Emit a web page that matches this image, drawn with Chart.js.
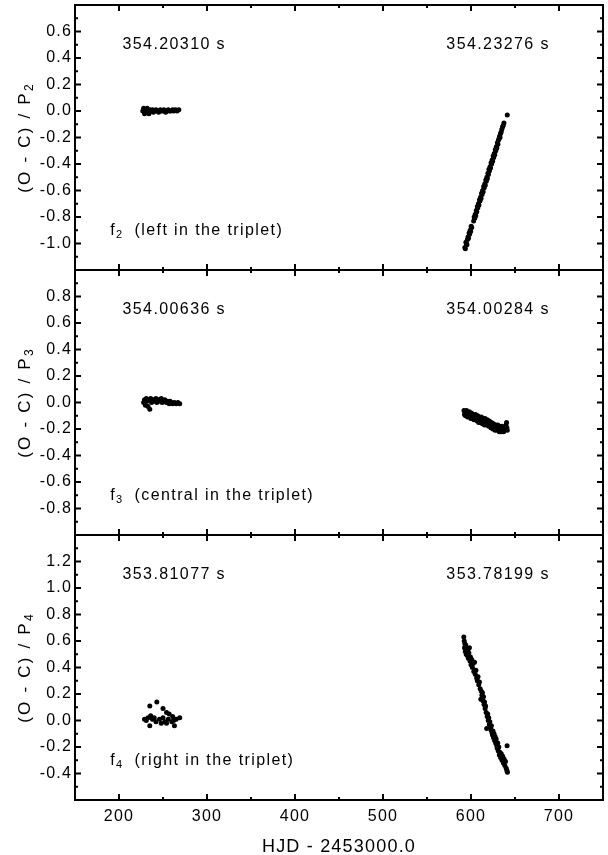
<!DOCTYPE html>
<html>
<head>
<meta charset="utf-8">
<title>O - C diagrams of the triplet</title>
<script src="https://cdn.jsdelivr.net/npm/chart.js@4.4.0/dist/chart.umd.min.js"></script>
<style>
  body { margin: 0; background: #fff; }
  #wrap { position: relative; width: 608px; height: 855px; }
  .panel { position: absolute; left: 0; width: 608px; }
</style>
</head>
<body>
<div id="wrap">
  <div class="panel" style="top:0;height:275px"><canvas id="c2"></canvas></div>
  <div class="panel" style="top:265px;height:275px"><canvas id="c3"></canvas></div>
  <div class="panel" style="top:530px;height:325px"><canvas id="c4"></canvas></div>
</div>
<script>
// axes
const hjdRange = [150, 750];
const hjdTicks = [200, 300, 400, 500, 600, 700];
const f2Range = [-1.2, 0.8];
const f2Ticks = [-1.0, -0.8, -0.6, -0.4, -0.2, 0.0, 0.2, 0.4, 0.6];
const f3Range = [-1.0, 1.0];
const f3Ticks = [-0.8, -0.6, -0.4, -0.2, 0.0, 0.2, 0.4, 0.6, 0.8];
const f4Range = [-0.6, 1.4];
const f4Ticks = [-0.4, -0.2, 0.0, 0.2, 0.4, 0.6, 0.8, 1.0, 1.2];

// periods fitted to each season
const f2Periods = ['354.20310 s', '354.23276 s'];
const f3Periods = ['354.00636 s', '354.00284 s'];
const f4Periods = ['353.81077 s', '353.78199 s'];

// f2, first season
const f2EarlyHjd = [227, 228, 229, 230, 231, 232, 233, 234, 235, 236, 238, 239, 241, 242, 244, 245, 247, 248, 250, 251,
  253, 254, 256, 257, 259, 261, 262, 264, 266, 268];
const f2EarlyOc = [0.00, 0.02, -0.02, 0.01, -0.01, 0.02, 0.00, -0.02, 0.01, 0.00, 0.01, -0.01, 0.00, 0.01, 0.00, -0.01, 0.01, 0.00, 0.00, 0.01,
  -0.01, 0.00, 0.01, 0.00, 0.00, 0.01, 0.00, 0.01, 0.00, 0.01];
// f2, second season
const f2LateHjd = [593.0, 593.6, 594.2, 594.8, 595.4, 596.0, 596.6, 597.2, 597.8, 598.4, 599.0, 599.6, 600.2, 600.8,
  603.0, 603.6, 604.2, 604.8, 605.4, 606.0, 606.6, 607.2, 607.8, 608.4, 609.0, 609.6, 610.2, 610.8, 611.4, 612.0,
  612.6, 613.2, 613.8, 614.4, 615.0, 615.6, 616.2, 616.8, 617.4, 618.0, 618.6, 619.2, 619.8, 620.4, 621.0, 621.6,
  622.2, 622.8, 623.4, 624.0, 624.6, 625.2, 625.8, 626.4, 627.0, 627.6, 628.2, 628.8, 629.4, 630.0, 630.6, 631.2,
  631.8, 632.4, 633.0, 633.6, 634.2, 635.0, 635.8, 636.6, 637.4, 641.2];
const f2LateOc = [-1.03, -1.04, -0.99, -1.00, -1.01, -0.97, -0.95, -0.96, -0.92, -0.93, -0.90, -0.91, -0.87, -0.88,
  -0.83, -0.80, -0.81, -0.78, -0.79, -0.75, -0.76, -0.72, -0.73, -0.70, -0.71, -0.67, -0.68, -0.65, -0.66, -0.62,
  -0.63, -0.60, -0.61, -0.57, -0.58, -0.55, -0.56, -0.52, -0.53, -0.50, -0.51, -0.47, -0.48, -0.44, -0.45, -0.42,
  -0.43, -0.39, -0.40, -0.37, -0.38, -0.34, -0.35, -0.32, -0.33, -0.29, -0.30, -0.27, -0.28, -0.24, -0.25, -0.22,
  -0.21, -0.19, -0.20, -0.17, -0.16, -0.14, -0.12, -0.11, -0.09, -0.03];

// f3, first season
const f3EarlyHjd = [228, 229, 230, 231, 232, 233, 234, 235, 236, 237, 239, 240, 242, 243, 245, 246, 248, 249, 251, 252,
  254, 255, 257, 258, 260, 261, 263, 265, 267, 269];
const f3EarlyOc = [0.00, 0.02, -0.02, 0.03, 0.01, -0.03, 0.02, -0.05, 0.03, 0.00, 0.02, 0.01, 0.03, 0.00, 0.02, 0.01, 0.03, 0.00, 0.01, 0.02,
  0.00, 0.01, -0.01, 0.01, 0.00, -0.01, 0.00, -0.01, 0.00, -0.01];
// f3, second season
const f3LateHjd = [592.0, 592.6, 593.2, 593.8, 594.4, 595.0, 595.6, 596.2, 596.8, 597.4, 598.0, 598.6, 599.2, 599.8,
  600.4, 601.0, 601.6, 602.2, 602.8, 603.4, 604.0, 604.6, 605.2, 605.8, 606.4, 607.0, 607.6, 608.2, 608.8, 609.4,
  610.0, 610.6, 611.2, 611.8, 612.4, 613.0, 613.6, 614.2, 614.8, 615.4, 616.0, 616.6, 617.2, 617.8, 618.4, 619.0,
  619.6, 620.2, 620.8, 621.4, 622.0, 622.6, 623.2, 623.8, 624.4, 625.0, 625.6, 626.2, 626.8, 627.4, 628.0, 628.6,
  629.2, 629.8, 630.4, 631.0, 631.6, 632.2, 632.8, 633.4, 634.0, 634.6, 635.2, 635.8, 636.4, 637.0, 637.6, 638.2,
  639.0, 639.8, 640.4, 640.8, 641.2];
const f3LateOc = [-0.06, -0.09, -0.07, -0.10, -0.08, -0.06, -0.09, -0.11, -0.08, -0.10, -0.07, -0.11, -0.09, -0.12,
  -0.08, -0.10, -0.12, -0.09, -0.11, -0.13, -0.10, -0.12, -0.09, -0.13, -0.11, -0.14, -0.10, -0.12, -0.15, -0.11,
  -0.13, -0.12, -0.15, -0.11, -0.14, -0.16, -0.12, -0.15, -0.13, -0.17, -0.12, -0.15, -0.14, -0.17, -0.13, -0.16,
  -0.15, -0.18, -0.14, -0.17, -0.16, -0.19, -0.15, -0.18, -0.17, -0.20, -0.16, -0.19, -0.18, -0.21, -0.17, -0.19,
  -0.18, -0.21, -0.17, -0.20, -0.19, -0.22, -0.18, -0.20, -0.19, -0.22, -0.18, -0.21, -0.20, -0.22, -0.19, -0.21,
  -0.20, -0.17, -0.15, -0.19, -0.21];

// f4, first season
const f4EarlyHjd = [229, 231, 233, 235, 235, 236, 238, 240, 242, 243, 246, 248, 250, 250, 252, 254, 254, 256, 257, 260,
  261, 262, 263, 265, 269];
const f4EarlyOc = [0.01, 0.00, 0.02, 0.11, -0.04, 0.035, 0.01, 0.02, -0.01, 0.14, 0.01, -0.02, 0.02, 0.09, -0.01, 0.06, -0.02, 0.01, 0.05, -0.01,
  0.03, 0.00, -0.04, 0.01, 0.02];
// f4, second season
const f4LateHjd = [591.8, 592.3, 592.6, 593.0, 593.5, 594.0, 594.6, 595.2, 595.8, 596.4, 597.0, 597.6, 598.2, 598.8,
  599.4, 600.0, 600.8, 601.6, 602.4, 603.2, 604.0, 604.8, 605.6, 606.4, 607.2, 608.0, 608.8, 609.6, 610.4, 611.2,
  611.8, 612.4, 613.0, 613.6, 614.2, 614.8, 615.4, 616.0, 616.6, 617.2, 617.8, 618.4, 619.0, 619.6, 620.2, 620.8,
  621.4, 622.0, 622.6, 623.2, 623.8, 624.4, 625.0, 625.6, 626.2, 626.8, 627.4, 628.0, 628.6, 629.2, 629.8, 630.4,
  631.0, 631.6, 632.2, 632.8, 633.6, 634.4, 635.2, 636.0, 636.8, 637.6, 638.4, 639.2, 640.0, 640.8, 641.4, 641.0];
const f4LateOc = [0.63, 0.60, 0.55, 0.58, 0.52, 0.57, 0.50, 0.54, 0.49, 0.53, 0.47, 0.51, 0.55, 0.45,
  0.48, 0.42, 0.46, 0.40, 0.43, 0.37, 0.44, 0.35, 0.38, 0.32, 0.30, 0.33, 0.27, 0.29, 0.24, 0.16,
  0.22, 0.19, 0.21, 0.15, 0.18, 0.12, 0.14, 0.09, 0.11, 0.06, -0.06, 0.03, 0.05, 0.00, 0.02, -0.03,
  -0.01, -0.05, -0.07, -0.04, -0.09, -0.11, -0.08, -0.13, -0.10, -0.15, -0.12, -0.17, -0.14, -0.19, -0.21, -0.17,
  -0.23, -0.20, -0.26, -0.24, -0.28, -0.25, -0.30, -0.27, -0.32, -0.29, -0.34, -0.31, -0.36, -0.38, -0.39, -0.19];

const FONT = '"Liberation Sans", Arial, Helvetica, sans-serif';

const toPoints = (xs, ys) => xs.map((x, i) => ({ x: x, y: ys[i] }));

// frame with inward ticks on all four sides, plus the panel texts
const framePlugin = {
  id: 'frame',
  beforeUpdate(chart) { chart.ctx.letterSpacing = '1.2px'; },
  beforeDraw(chart) { chart.ctx.letterSpacing = '1.2px'; },
  afterDatasetsDraw(chart, args, o) {
    const { ctx, chartArea: a, scales: { x, y } } = chart;
    ctx.save();
    ctx.strokeStyle = '#000';
    ctx.lineWidth = 2;
    ctx.beginPath();
    for (let v = x.min; v <= x.max; v += 50) {
      const px = x.getPixelForValue(v);
      const len = v % 100 === 0 ? 6 : 3;
      ctx.moveTo(px, a.top); ctx.lineTo(px, a.top + len);
      ctx.moveTo(px, a.bottom); ctx.lineTo(px, a.bottom - len);
    }
    const n = Math.round((y.max - y.min) * 10);
    for (let i = 0; i <= n; i++) {
      const py = y.getPixelForValue(y.min + i / 10);
      const len = i % 2 === 0 ? 6 : 3;
      ctx.moveTo(a.left, py); ctx.lineTo(a.left + len, py);
      ctx.moveTo(a.right, py); ctx.lineTo(a.right - len, py);
    }
    ctx.stroke();
    ctx.strokeRect(a.left, a.top, a.right - a.left, a.bottom - a.top);

    // periods and frequency name
    ctx.fillStyle = '#000';
    ctx.textBaseline = 'middle';
    ctx.letterSpacing = '1.4px';
    ctx.font = '16px ' + FONT;
    const yTop = y.getPixelForValue(y.max - 0.3);
    ctx.fillText(o.periods[0], x.getPixelForValue(204), yTop);
    ctx.fillText(o.periods[1], x.getPixelForValue(572), yTop);

    const yBot = y.getPixelForValue(y.min + 0.3);
    let px = x.getPixelForValue(190);
    ctx.fillText('f', px, yBot);
    px += ctx.measureText('f').width;
    ctx.font = '11px ' + FONT;
    ctx.fillText(o.sub, px, yBot + 5);
    px += ctx.measureText(o.sub).width + 11;
    ctx.font = '16px ' + FONT;
    ctx.fillText(o.note, px, yBot);

    // y axis title with subscript
    ctx.translate(25, (a.top + a.bottom) / 2);
    ctx.rotate(-Math.PI / 2);
    ctx.letterSpacing = '2.2px';
    ctx.font = '17px ' + FONT;
    const main = '(O - C) / P';
    const w1 = ctx.measureText(main).width;
    ctx.font = '12px ' + FONT;
    const w2 = ctx.measureText(o.sub).width;
    const start = -(w1 + w2) / 2;
    ctx.font = '17px ' + FONT;
    ctx.fillText(main, start, 0);
    ctx.font = '12px ' + FONT;
    ctx.fillText(o.sub, start + w1, 5);
    ctx.restore();
  }
};

function makePanel(id, p) {
  return new Chart(document.getElementById(id), {
    type: 'scatter',
    data: {
      datasets: [
        { data: toPoints(p.earlyX, p.earlyY) },
        { data: toPoints(p.lateX, p.lateY) }
      ]
    },
    options: {
      responsive: true,
      maintainAspectRatio: false,
      animation: false,
      events: [],
      layout: { padding: { left: 0, right: 5, top: 5, bottom: p.showX ? 0 : 5 } },
      elements: {
        point: { radius: 2.5, hoverRadius: 2.5, borderWidth: 0, backgroundColor: '#000' }
      },
      plugins: {
        legend: { display: false },
        tooltip: { enabled: false },
        frame: { periods: p.periods, sub: p.sub, note: p.note }
      },
      scales: {
        x: {
          type: 'linear',
          min: hjdRange[0],
          max: hjdRange[1],
          display: p.showX,
          afterBuildTicks: s => { s.ticks = hjdTicks.map(v => ({ value: v })); },
          afterFit: s => {
            s.height = p.showX ? 55 : 0;
            s.paddingLeft = 0;
            s.paddingRight = 0;
          },
          grid: { display: false, drawTicks: false },
          border: { display: false },
          ticks: { color: '#000', padding: 7, font: { family: FONT, size: 16 } },
          title: {
            display: true,
            text: 'HJD - 2453000.0',
            color: '#000',
            padding: { top: 0, bottom: -1 },
            font: { family: FONT, size: 18, lineHeight: 1.0 }
          }
        },
        y: {
          type: 'linear',
          min: p.range[0],
          max: p.range[1],
          afterBuildTicks: s => { s.ticks = p.ticks.map(v => ({ value: v })); },
          afterFit: s => {
            s.width = 75;
            s.paddingTop = 0;
            s.paddingBottom = 0;
          },
          grid: { display: false, drawTicks: false },
          border: { display: false },
          ticks: {
            color: '#000',
            padding: 3,
            font: { family: FONT, size: 16 },
            callback: v => v.toFixed(1)
          }
        }
      }
    },
    plugins: [framePlugin]
  });
}

makePanel('c2', {
  earlyX: f2EarlyHjd, earlyY: f2EarlyOc, lateX: f2LateHjd, lateY: f2LateOc,
  range: f2Range, ticks: f2Ticks, periods: f2Periods, sub: '2', note: '(left in the triplet)', showX: false
});
makePanel('c3', {
  earlyX: f3EarlyHjd, earlyY: f3EarlyOc, lateX: f3LateHjd, lateY: f3LateOc,
  range: f3Range, ticks: f3Ticks, periods: f3Periods, sub: '3', note: '(central in the triplet)', showX: false
});
makePanel('c4', {
  earlyX: f4EarlyHjd, earlyY: f4EarlyOc, lateX: f4LateHjd, lateY: f4LateOc,
  range: f4Range, ticks: f4Ticks, periods: f4Periods, sub: '4', note: '(right in the triplet)', showX: true
});
</script>
</body>
</html>
